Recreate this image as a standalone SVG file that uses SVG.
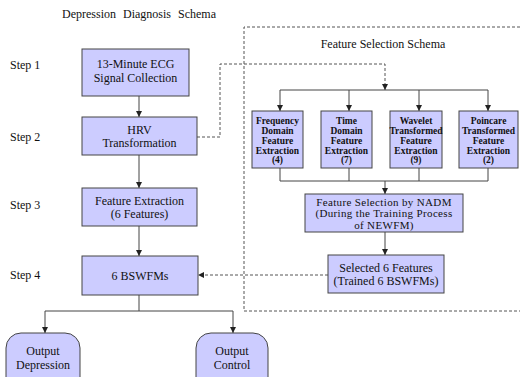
<svg xmlns="http://www.w3.org/2000/svg" width="520" height="377" viewBox="0 0 520 377">
<style>
text{font-family:"Liberation Serif","Times New Roman",serif;fill:#111;dominant-baseline:central}
.t{font-size:12px}
.n{font-size:11px;letter-spacing:0.35px;text-anchor:middle}
.c{text-anchor:middle}
.s{font-size:9.5px;font-weight:bold;text-anchor:middle}
.box{fill:#ccccff;stroke:#444;stroke-width:1}
.ln{fill:none;stroke:#444;stroke-width:1}
.ar{fill:none;stroke:#444;stroke-width:1;marker-end:url(#ah)}
.dl{fill:none;stroke:#555;stroke-width:1;stroke-dasharray:3 2}
.da{fill:none;stroke:#555;stroke-width:1;stroke-dasharray:3 2;marker-end:url(#ah)}
</style>
<defs>
<marker id="ah" markerUnits="userSpaceOnUse" markerWidth="6" markerHeight="6" refX="6" refY="3" orient="auto">
<path d="M0,0 L6,3 L0,6 z" fill="#222"/>
</marker>
</defs>
<rect width="520" height="377" fill="#fff"/>

<g id="labels">
<text class="t" x="62" y="14" style="word-spacing:4px">Depression Diagnosis Schema</text>
<text class="t" x="10" y="65">Step 1</text>
<text class="t" x="10" y="137">Step 2</text>
<text class="t" x="10" y="205">Step 3</text>
<text class="t" x="10" y="275">Step 4</text>
</g>

<g id="feature-selection-schema">
<path class="dl" d="M530,27 H244 V311 H530"/>
<text class="t c" x="383" y="44">Feature Selection Schema</text>
</g>

<g id="connectors">
<path class="ar" d="M139,96 V117"/>
<path class="ar" d="M139,155 V188"/>
<path class="ar" d="M139,226 V256"/>
<path class="ln" d="M139,295 V311 M45,311 H233"/>
<path class="ar" d="M45,311 V333"/>
<path class="ar" d="M233,311 V333"/>
<path class="da" d="M197,137 H220 V64 H385 V90"/>
<path class="ln" d="M280,90 H488"/>
<path class="ar" d="M280,90 V111"/>
<path class="ar" d="M349,90 V111"/>
<path class="ar" d="M419,90 V111"/>
<path class="ar" d="M488,90 V111"/>
<path class="ln" d="M280,168 V181 M349,168 V181 M419,168 V181 M488,168 V181 M280,181 H488"/>
<path class="ar" d="M385,181 V194"/>
<path class="ar" d="M385,232 V255"/>
<path class="da" d="M328,275 H198"/>
</g>

<g id="ecg">
<rect class="box" x="82" y="49" width="107" height="47"/>
<text class="t c" x="135.5" y="64">13-Minute ECG</text>
<text class="t c" x="135.5" y="78">Signal Collection</text>
</g>
<g id="hrv">
<rect class="box" x="82" y="117" width="115" height="38"/>
<text class="t c" x="139.5" y="130">HRV</text>
<text class="t c" x="139.5" y="143">Transformation</text>
</g>
<g id="feature-extraction">
<rect class="box" x="82" y="188" width="115" height="38"/>
<text class="t c" x="139.5" y="200.5">Feature Extraction</text>
<text class="t c" x="139.5" y="213.5">(6 Features)</text>
</g>
<g id="bswfms">
<rect class="box" x="82" y="256" width="116" height="39"/>
<text class="t c" x="140" y="276">6 BSWFMs</text>
</g>
<g id="out-depression">
<rect class="box" x="6" y="333" width="74" height="60" rx="15"/>
<text class="t c" x="43" y="351">Output</text>
<text class="t c" x="43" y="364.5">Depression</text>
</g>
<g id="out-control">
<rect class="box" x="196" y="333" width="72" height="60" rx="15"/>
<text class="t c" x="232" y="351">Output</text>
<text class="t c" x="232" y="364.5">Control</text>
</g>

<g id="freq">
<rect class="box" x="252" y="111" width="51" height="57"/>
<text class="s" x="277.5" y="120.5">Frequency</text>
<text class="s" x="277.5" y="130.5">Domain</text>
<text class="s" x="277.5" y="140.5">Feature</text>
<text class="s" x="277.5" y="150.5">Extraction</text>
<text class="s" x="277.5" y="160">(4)</text>
</g>
<g id="time">
<rect class="box" x="321" y="111" width="51" height="57"/>
<text class="s" x="346.5" y="120.5">Time</text>
<text class="s" x="346.5" y="130.5">Domain</text>
<text class="s" x="346.5" y="140.5">Feature</text>
<text class="s" x="346.5" y="150.5">Extraction</text>
<text class="s" x="346.5" y="160">(7)</text>
</g>
<g id="wavelet">
<rect class="box" x="390" y="111" width="52" height="57"/>
<text class="s" x="416" y="120.5">Wavelet</text>
<text class="s" x="416" y="130.5">Transformed</text>
<text class="s" x="416" y="140.5">Feature</text>
<text class="s" x="416" y="150.5">Extraction</text>
<text class="s" x="416" y="160">(9)</text>
</g>
<g id="poincare">
<rect class="box" x="459" y="111" width="59" height="57"/>
<text class="s" x="488.5" y="120.5">Poincare</text>
<text class="s" x="488.5" y="130.5">Transformed</text>
<text class="s" x="488.5" y="140.5">Feature</text>
<text class="s" x="488.5" y="150.5">Extraction</text>
<text class="s" x="488.5" y="160">(2)</text>
</g>
<g id="nadm">
<rect class="box" x="305" y="194" width="158" height="38"/>
<text class="n" x="384" y="201.5">Feature Selection by NADM</text>
<text class="n" x="384" y="213">(During the Training Process</text>
<text class="n" x="384" y="224.5">of NEWFM)</text>
</g>
<g id="selected">
<rect class="box" x="328" y="255" width="116" height="38"/>
<text class="t c" x="386" y="267.5">Selected 6 Features</text>
<text class="t c" x="386" y="281">(Trained 6 BSWFMs)</text>
</g>
</svg>
